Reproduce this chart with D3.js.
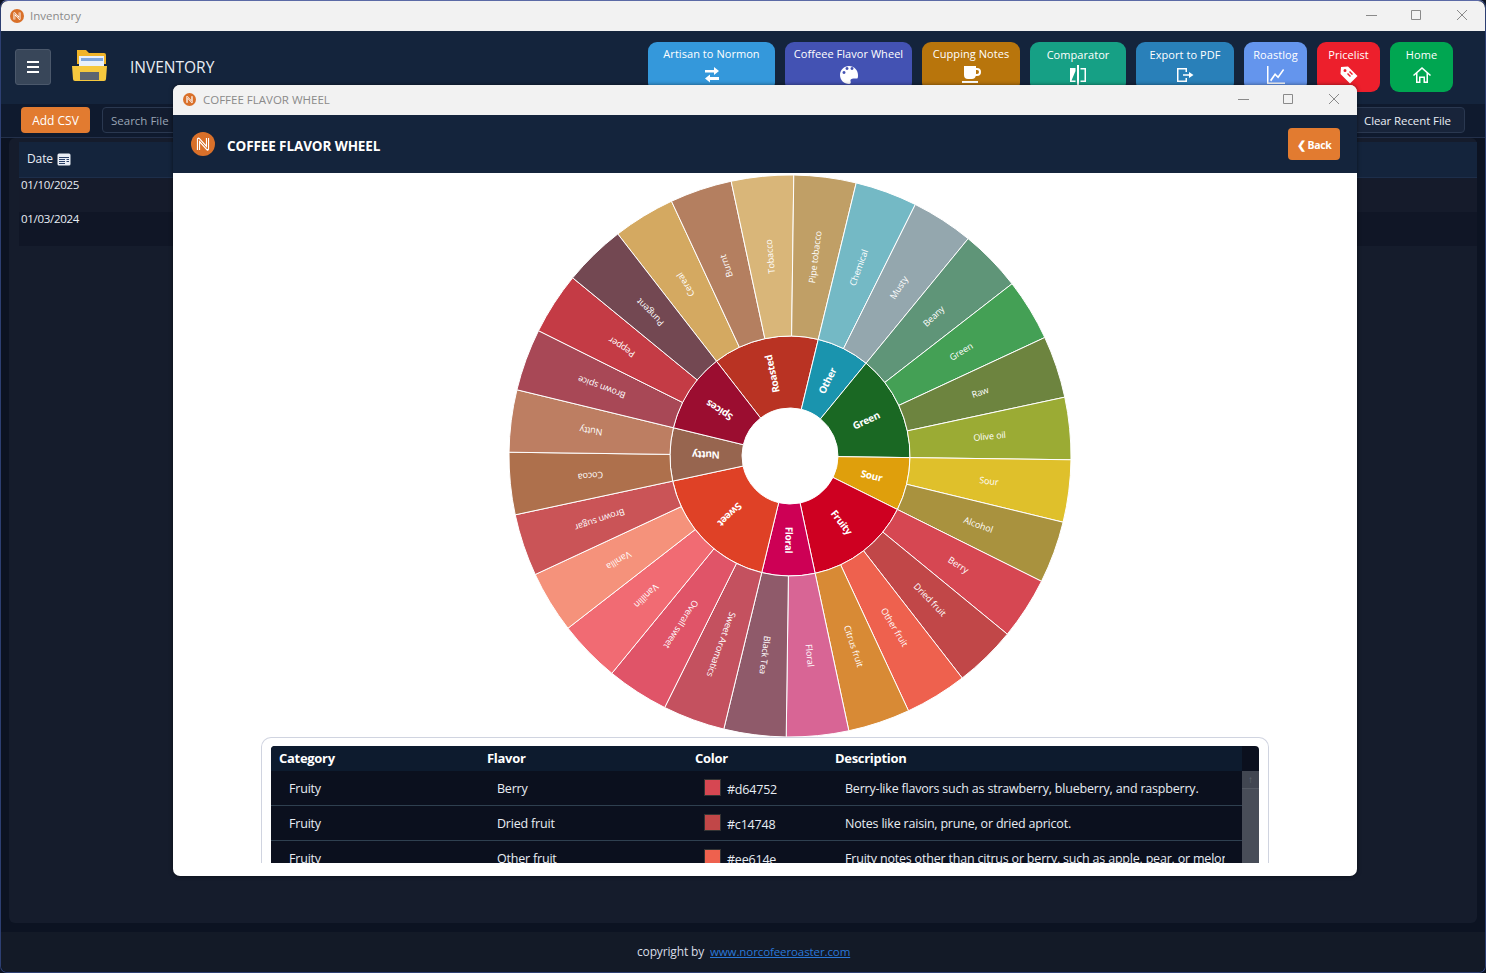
<!DOCTYPE html>
<meta charset="utf-8">
<script src="https://d3js.org/d3.v7.min.js"></script>
<style>
html,body{margin:0;padding:0;background:#0c1322;overflow:hidden}
body{width:1486px;height:973px;position:relative;font-family:"Open Sans",sans-serif;color:#fff}
div,span,a{position:absolute;box-sizing:border-box;white-space:nowrap}
.bar{background:#f2f2f2;color:#8a8a8a;font-size:12px}
.dark{background:#14243c}
.btn{border-radius:4px;text-align:center}
.nav{top:42px;height:50px;border-radius:9px;font-size:11px;letter-spacing:.05px;text-align:center;line-height:13px;padding-top:5px}
.nav svg{position:absolute;left:50%;margin-left:-10px;top:23px}
.th{font-weight:700;font-size:13px;top:5px;letter-spacing:-.3px}
.td{font-size:12.5px;letter-spacing:-.2px;color:#e8edf4;line-height:17px}
</style>
<body>
<div id="app" style="left:0;top:0;width:1486px;height:973px"></div>

<script>

// wheel data, going clockwise from the top left of Roasted
const categories = ["Roasted", "Other", "Green", "Sour", "Fruity", "Floral", "Sweet", "Nutty", "Spices"];
const categoryColors = ["#b93323", "#1a94ae", "#1a6823", "#df9f0c", "#ce0021", "#cd0055", "#df4126", "#97654f", "#9b0d30"];
const categorySizes = [4, 2, 4, 2, 4, 2, 5, 2, 3]; // how many flavors belong to each category

const flavors = ["Cereal", "Burnt", "Tobacco", "Pipe tobacco", "Chemical", "Musty", "Beany", "Green", "Raw", "Olive oil",
    "Sour", "Alcohol", "Berry", "Dried fruit", "Other fruit", "Citrus fruit", "Floral", "Black Tea", "Sweet Aromatics",
    "Overall sweet", "Vanillin", "Vanilla", "Brown sugar", "Cocoa", "Nutty", "Brown spice", "Pepper", "Pungent"];
const flavorColors = ["#d4a961", "#b47f60", "#d9b679", "#c09f66", "#74b9c5", "#94a7ae", "#5f9578", "#44a055", "#6d843f", "#9bab34",
    "#dfc02b", "#a9923e", "#d64752", "#c14748", "#ee614e", "#d88a35", "#d86595", "#8f5a6a", "#c4515f",
    "#e05468", "#f16b73", "#f5927b", "#ca5457", "#ae704c", "#bd7e62", "#a84856", "#c43b45", "#734852"];

// legend table rows
const tableCategories = ["Fruity", "Fruity", "Fruity"];
const tableFlavors = ["Berry", "Dried fruit", "Other fruit"];
const tableColors = ["#d64752", "#c14748", "#ee614e"];
const tableDescriptions = ["Berry-like flavors such as strawberry, blueberry, and raspberry.",
    "Notes like raisin, prune, or dried apricot.",
    "Fruity notes other than citrus or berry, such as apple, pear, or melon."];
const tableHeaders = ["Category", "Flavor", "Color", "Description"];

// top buttons of the app
const navLabels = ["Artisan to Normon", "Coffeee Flavor Wheel", "Cupping Notes", "Comparator", "Export to PDF", "Roastlog", "Pricelist", "Home"];
const navColors = ["#3498db", "#4352b3", "#b8750c", "#16a085", "#2980b9", "#6495ed", "#ed1f2c", "#00a651"];
const navWidths = [127, 127, 98, 96, 98, 63, 63, 63];

const navIcons = [
    "M3 5h9V2l5 4-5 4V7.500H3zM17 12H8V9.500l-5 4 5 4V15h9z",
    "M10 1C5 1 1 5 1 10s4 9 9 9c2 0 2-1.500 1.500-3-.5-1.500 1-2.500 3-2.500H18c1 0 1-2 1-3.500 0-5-4-9-9-9zM5 9a1.500 1.500 0 1 1 .01 0zM8 5a1.500 1.500 0 1 1 .01 0zM13 5a1.500 1.500 0 1 1 .01 0z",
    "M3 1h12v2h1a3 3 0 0 1 0 8h-1.200A4 4 0 0 1 11 14H7a4 4 0 0 1-4-4zM15 5v4h1a1 1 0 0 0 0-4zM1 16h16v2H1z",
    "M9 0h2v20H9zM7.500 3H2v14h5.500V6L3.500 15.500h4zM12.500 3H18v14h-5.500v-1.500h4v-11h-4z",
    "M2 3h10v4h-1.500V4.500h-7v11h7V13H12v4H2zM8 9.200h6V7l4.500 3-4.500 3v-2.200H8z",
    "M1 1h1.500v16.500H19V19H1zM4 15l5-7 3 3 5-7 1.200 1-6 8.500-3-3-4 6z",
    "M2 2l7-.5 9.500 9.500-7.500 7.500L1.500 9zM6 7a1.500 1.500 0 1 0 0-3 1.500 1.500 0 0 0 0 3zM8 9l3 3 1-1-3-3zM10 7l3 3 1-1-3-3z",
    "M10 2l9 8-1 1-2-1.700V18h-4.500v-5h-3v5H4V9.300L2 11l-1-1zM5.500 8v8.500H7v-5h6v5h1.500V8L10 4z"
];

const app = d3.select("#app");

// small helper so the app chrome can be written in one line each
function box(parent, x, y, w, h, css, text) {
    const b = parent.append("div")
        .style("left", x + "px").style("top", y + "px")
        .style("width", w + "px").style("height", h + "px")
        .attr("style", function() { return this.getAttribute("style") + ";" + (css || ""); });
    if (text) b.text(text);
    return b;
}

// the round N logo
function logo(parent, x, y, size) {
    const svg = parent.append("svg").attr("width", size).attr("height", size)
        .attr("viewBox", "0 0 24 24")
        .style("position", "absolute").style("left", x + "px").style("top", y + "px");
    svg.append("circle").attr("cx", 12).attr("cy", 12).attr("r", 12).attr("fill", "#d9702a");
    svg.append("path").attr("d", "M7.500 18V7l9 10V6")
        .attr("fill", "none").attr("stroke", "#fff").attr("stroke-width", 3.200).attr("stroke-linejoin", "round");
    svg.append("path").attr("d", "M7.500 18V7l9 10V6")
        .attr("fill", "none").attr("stroke", "#d9702a").attr("stroke-width", 1);
}

/* main window behind the modal */
box(app, 0, 0, 1486, 973, "border:1px solid #2d3f72;border-top-color:#5b6aa6;border-radius:7px");
box(app, 1, 1, 1484, 30, "border-radius:7px 7px 0 0", "").classed("bar", true);
logo(app, 10, 9, 14);
box(app, 30, 8, 80, 16, "color:#8a8a8a;font-size:11.5px;line-height:16px", "Inventory");

function winButtons(parent, right, y) {
    parent.append("svg").attr("width", 110).attr("height", 14)
        .style("position", "absolute").style("left", right - 110 + "px").style("top", y + "px")
        .append("path").attr("d", "M8 7.500h11M53.500 2.500h9v9h-9zM99 2l10 10M109 2l-10 10")
        .attr("fill", "none").attr("stroke", "#8a8a8a");
}
winButtons(app, 1468, 8);

box(app, 1, 31, 1484, 73, "").classed("dark", true);
box(app, 15, 49, 36, 36, "background:#384659;border-radius:3px;border:1px solid #4b586b");
box(app, 27, 61, 12, 12, "border-top:2px solid #fff;border-bottom:2px solid #fff");
box(app, 27, 66, 12, 2, "background:#fff");

// folder icon
const folder = app.append("svg").attr("width", 38).attr("height", 36)
    .style("position", "absolute").style("left", "71px").style("top", "48px");
folder.append("path").attr("d", "M6 2h9l3 3h15a2 2 0 0 1 2 2v9H6z").attr("fill", "#f0b429");
folder.append("rect").attr("x", 8).attr("y", 8).attr("width", 25).attr("height", 12).attr("fill", "#e8f0fb");
folder.append("rect").attr("x", 10).attr("y", 10).attr("width", 22).attr("height", 3).attr("fill", "#7ea6dc");
folder.append("path").attr("d", "M1 18h35l-1 13a2 2 0 0 1-2 2H4a2 2 0 0 1-2-2z").attr("fill", "#f6c83e");
folder.append("rect").attr("x", 9).attr("y", 24).attr("width", 19).attr("height", 8).attr("fill", "#5d6470");

box(app, 130, 56, 120, 22, "font-size:15.5px;line-height:22px;color:#e8edf4", "INVENTORY");

// nav buttons, laid out left to right with a 10px gap
let navX = 648;
navLabels.forEach(function(label, i) {
    const b = box(app, navX, 42, navWidths[i], 50, "background:" + navColors[i], label).classed("nav", true);
    if (i > 2) b.style("padding-top", "6px");
    b.append("svg").attr("width", 20).attr("height", 20).attr("viewBox", "0 0 20 20")
        .append("path").attr("d", navIcons[i]).attr("fill", "#fff").attr("fill-rule", "evenodd");
    navX += navWidths[i] + 10;
});

box(app, 1, 104, 1484, 34, "background:#0f1a2e;border-bottom:1px solid #23304a");
box(app, 21, 107, 69, 26, "background:#e27b30;font-size:12px;line-height:28px", "Add CSV").classed("btn", true);
box(app, 102, 107, 90, 26, "border:1px solid #2a3850;border-radius:4px;color:#9aa5b5;font-size:11.5px;line-height:26px;padding-left:8px;background:#121c2f", "Search File");
box(app, 1340, 107, 125, 26, "border:1px solid #2a3850;border-radius:4px;color:#e8edf4;font-size:11.5px;line-height:25px;padding-left:23px;background:#18243a;letter-spacing:-.1px", "Clear Recent File");

box(app, 9, 138, 1468, 785, "background:#151c2c;border-radius:6px");
box(app, 19, 142, 1458, 36, "border-bottom:1px solid #1d2e4a").classed("dark", true);
box(app, 19, 178, 1458, 34, "background:#151b2b");
box(app, 19, 212, 1458, 34, "background:#101626");
box(app, 27, 151, 40, 16, "font-size:12px;line-height:16px;color:#e8edf4;letter-spacing:-.1px", "Date");

// small calendar next to Date
const calendar = app.append("svg").attr("width", 14).attr("height", 14)
    .style("position", "absolute").style("left", "57px").style("top", "152px");
calendar.append("path").attr("d", "M2 1.500h10a1.500 1.500 0 0 1 1.500 1.500v9a1.500 1.500 0 0 1-1.500 1.500H2A1.500 1.500 0 0 1 .5 12V3A1.500 1.500 0 0 1 2 1.500z")
    .attr("fill", "#e8edf4");
calendar.append("path").attr("d", "M2 5.500h10M2 7.500h6M9.500 7.500h2.500M2 9.500h6M9.500 9.500h2.500M2 11.500h6")
    .attr("stroke", "#2a3f66").attr("stroke-width", 1);

box(app, 21, 177, 80, 16, "font-size:11.5px;line-height:16px;color:#e8edf4;letter-spacing:-.3px", "01/10/2025");
box(app, 21, 211, 80, 16, "font-size:11.5px;line-height:16px;color:#e8edf4;letter-spacing:-.3px", "01/03/2024");

// footer
box(app, 1, 932, 1484, 40, "background:#131a27;border-radius:0 0 7px 7px");
box(app, 637, 944, 70, 16, "font-size:12px;line-height:16px;color:#d8dde6;letter-spacing:-.15px", "copyright by");
box(app, 710, 944, 150, 16, "font-size:11.5px;line-height:16px;color:#2a78d8;text-decoration:underline;letter-spacing:-.1px", "www.norcofeeroaster.com");

/* modal */
const modal = box(app, 173, 85, 1184, 791, "background:#fff;border-radius:7px;overflow:hidden;box-shadow:0 0 4px rgba(0,0,0,.5)");
box(modal, 0, 0, 1184, 30, "").classed("bar", true);
logo(modal, 10, 8, 13);
box(modal, 30, 7, 200, 16, "color:#8a8a8a;font-size:11.5px;line-height:16px", "COFFEE FLAVOR WHEEL");
winButtons(modal, 1167, 7);
box(modal, 0, 30, 1184, 58, "").classed("dark", true);
logo(modal, 18, 47, 24);
box(modal, 54, 51, 240, 20, "font-weight:700;font-size:13.5px;line-height:20px;letter-spacing:-.1px", "COFFEE FLAVOR WHEEL");
box(modal, 1115, 43, 52, 32, "background:#e27b30;font-size:10.5px;font-weight:700;line-height:34px;letter-spacing:-.4px", "\u276E Back").classed("btn", true);

/* flavor wheel, two rings made with d3.partition */
const svgWheel = modal.append("svg")
    .attr("width", 1184).attr("height", 703)
    .style("position", "absolute").style("left", 0).style("top", "88px")
    .append("g")
    .attr("transform", "translate(617,283)"); // center of the wheel

let flavorIndex = 0;
const tree = {
    name: "root",
    children: categories.map(function(c, i) {
        const leaves = flavors.slice(flavorIndex, flavorIndex + categorySizes[i]).map(function(f, j) {
            return {name: f, color: flavorColors[flavorIndex + j]};
        });
        flavorIndex += categorySizes[i];
        return {name: c, color: categoryColors[i], children: leaves};
    })
};

const root = d3.partition().size([2 * Math.PI, 3])(
    d3.hierarchy(tree).sum(d => d.children ? 0 : 1)
);

const startAngle = -37.8 * Math.PI / 180; // the wheel is turned a bit, Roasted starts here
const radius = d3.scaleLinear().domain([1, 2, 3]).range([48, 120, 281]);

const arc = d3.arc()
    .startAngle(d => d.x0 + startAngle)
    .endAngle(d => d.x1 + startAngle)
    .innerRadius(d => radius(d.y0))
    .outerRadius(d => radius(d.y1));

const nodes = root.descendants().filter(d => d.depth > 0);

svgWheel.selectAll("path")
    .data(nodes)
    .join("path")
    .attr("d", arc)
    .attr("fill", d => d.data.color)
    .attr("stroke", "#fff")
    .attr("stroke-width", 1);

// labels follow the radius and turn upside down on the left side
svgWheel.selectAll("text")
    .data(nodes)
    .join("text")
    .attr("transform", function(d) {
        const a = ((d.x0 + d.x1) / 2 + startAngle) * 180 / Math.PI;
        return `rotate(${a - 90}) translate(${radius((d.y0 + d.y1) / 2)},0)`;
    })
    .attr("text-anchor", "middle")
    .attr("dy", "0.35em")
    .attr("fill", "#fff")
    .style("font-family", '"Open Sans", sans-serif')
    .style("font-size", d => d.depth === 1 ? "10px" : "9px")
    .style("font-weight", d => d.depth === 1 ? 700 : 400)
    .style("letter-spacing", d => d.depth === 1 ? "-0.3px" : "-0.1px")
    .text(d => d.data.name);

/* legend table, cut off at the bottom like a scroll area */
const wrap = box(modal, 88, 652, 1008, 126, "border:1px solid #d0d4e0;border-bottom:0;border-radius:10px 10px 0 0;overflow:hidden");
const table = box(wrap, 9, 8, 988, 130, "background:#0b101e;border-radius:4px 4px 0 0;overflow:hidden");
box(table, 0, 0, 971, 25, "background:#0d1b2e");

const headerX = [8, 216, 424, 564];
tableHeaders.forEach(function(h, i) {
    box(table, headerX[i], 4, 120, 20, "line-height:17px;top:4px", h).classed("th", true);
});

const rowStep = 35;
const rows = table.selectAll(".row")
    .data(d3.range(tableFlavors.length))
    .join("div")
    .attr("class", "row")
    .style("left", 0)
    .style("top", i => 25 + i * rowStep + "px")
    .style("width", "971px")
    .style("height", rowStep + "px")
    .style("border-bottom", "1px solid #2f4050");

rows.append("div").attr("class", "td").style("left", "18px").style("top", "9px").text(i => tableCategories[i]);
rows.append("div").attr("class", "td").style("left", "226px").style("top", "9px").text(i => tableFlavors[i]);
rows.append("div").style("left", "433px").style("top", "8px").style("width", "17px").style("height", "17px")
    .style("border", "1px solid #333").style("background", i => tableColors[i]);
rows.append("div").attr("class", "td").style("left", "456px").style("top", "10px").text(i => tableColors[i]);
rows.append("div").attr("class", "td").style("left", "574px").style("top", "9px")
    .style("width", "380px").style("overflow", "hidden").text(i => tableDescriptions[i]);

// scrollbar
box(table, 971, 25, 17, 105, "background:#484d58");
box(table, 971, 25, 17, 18, "background:#414651;border-bottom:1px solid #555a64;color:#666c78;font-size:10px;line-height:17px;text-align:center", "\u2191");

</script>
</body>
